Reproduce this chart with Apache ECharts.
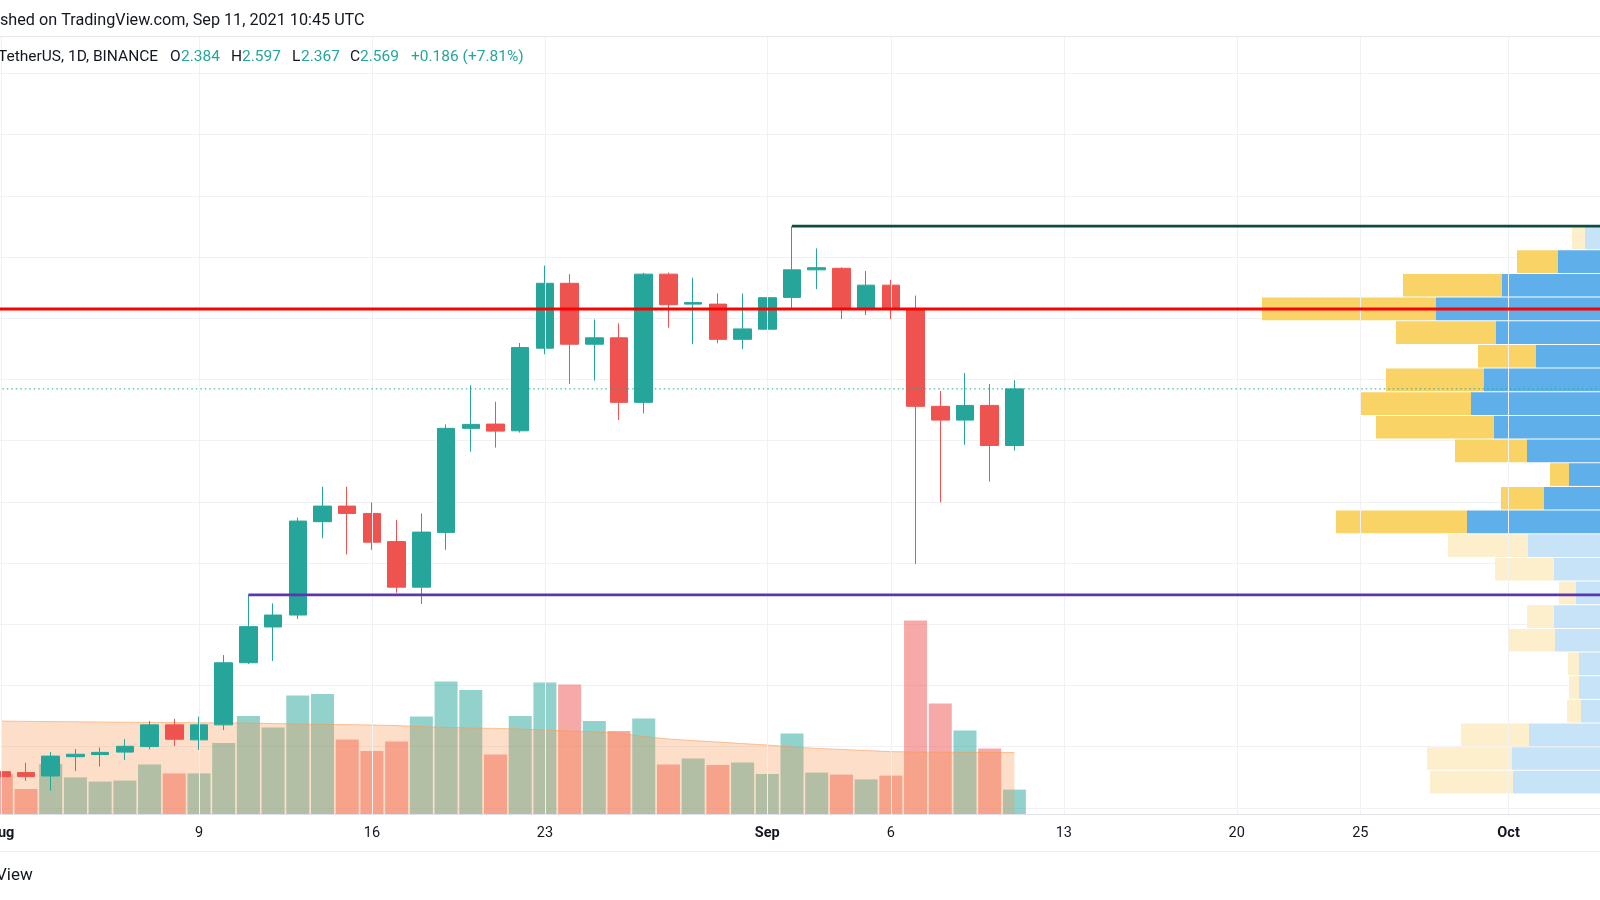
<!DOCTYPE html>
<html>
<head>
<meta charset="utf-8">
<script src="https://cdn.jsdelivr.net/npm/echarts/dist/echarts.min.js"></script>
<style>
  html, body { margin: 0; padding: 0; background: #ffffff; }
  #chart { width: 1600px; height: 900px; }
</style>
</head>
<body>
<div id="chart"></div>
<script>
// ---------------- DATA ----------------
const dates = [
  'Aug 1','Aug 2','Aug 3','Aug 4','Aug 5','Aug 6','Aug 7','Aug 8','Aug 9','Aug 10',
  'Aug 11','Aug 12','Aug 13','Aug 14','Aug 15','Aug 16','Aug 17','Aug 18','Aug 19','Aug 20',
  'Aug 21','Aug 22','Aug 23','Aug 24','Aug 25','Aug 26','Aug 27','Aug 28','Aug 29','Aug 30',
  'Aug 31','Sep 1','Sep 2','Sep 3','Sep 4','Sep 5','Sep 6','Sep 7','Sep 8','Sep 9',
  'Sep 10','Sep 11'
];
const futureDates = [
  'Sep 12','Sep 13','Sep 14','Sep 15','Sep 16','Sep 17','Sep 18','Sep 19','Sep 20','Sep 21',
  'Sep 22','Sep 23','Sep 24','Sep 25','Sep 26','Sep 27','Sep 28','Sep 29','Sep 30','Oct 1',
  'Oct 2','Oct 3','Oct 4','Oct 5'
];
const opens  = [1.318,1.315,1.304,1.367,1.374,1.382,1.400,1.471,1.422,1.471,
                1.674,1.791,1.830,2.135,2.186,2.162,2.070,1.921,2.100,2.440,
                2.454,2.432,2.702,2.914,2.715,2.736,2.525,2.944,2.846,2.846,
                2.731,2.764,2.868,2.958,2.963,2.829,2.908,2.831,2.512,2.467,
                2.515,2.384];
const closes = [1.302,1.302,1.369,1.375,1.381,1.401,1.471,1.424,1.471,1.674,
                1.792,1.830,2.137,2.186,2.162,2.068,1.921,2.101,2.440,2.453,
                2.431,2.704,2.914,2.715,2.736,2.525,2.944,2.844,2.851,2.731,
                2.765,2.867,2.958,2.965,2.829,2.908,2.831,2.512,2.467,2.515,
                2.384,2.569];
const lows   = [1.296,1.288,1.256,1.320,1.335,1.356,1.391,1.402,1.389,1.454,
                1.670,1.680,1.817,2.081,2.028,2.043,1.903,1.866,2.043,2.364,
                2.377,2.426,2.682,2.585,2.596,2.467,2.489,2.769,2.715,2.718,
                2.699,2.718,2.830,2.895,2.797,2.810,2.797,1.997,2.198,2.386,
                2.266,2.367];
const highs  = [1.386,1.347,1.382,1.392,1.397,1.424,1.484,1.491,1.498,1.699,
                1.896,1.868,2.148,2.249,2.249,2.198,2.141,2.162,2.453,2.581,
                2.527,2.719,2.972,2.944,2.796,2.783,2.948,2.949,2.932,2.881,
                2.881,2.901,3.101,3.028,2.966,2.954,2.925,2.874,2.562,2.621,
                2.585,2.597];
// daily volume (millions)
const volumes = [200,125,250,183,162,167,247,203,203,355,
                 490,433,592,600,372,315,363,487,663,620,
                 297,490,657,647,465,415,477,248,278,245,
                 258,200,402,207,197,173,192,968,553,417,
                 327,122];
// volume moving average (millions)
const volumeMA = [465,463,462,461,460,459,458,457,456,456,
                  455,452,450,448,447,445,442,437,433,430,
                  428,425,420,415,411,405,387,375,367,360,
                  352,345,335,328,323,317,312,310,309,308,
                  308,307];
// time-axis ticks
const tickDates  = ['Aug 1','Aug 9','Aug 16','Aug 23','Sep 1','Sep 6','Sep 13','Sep 20','Sep 25','Oct 1'];
const tickLabels = ['Aug','9','16','23','Sep','6','13','20','25','Oct'];
const monthLabels = ['Aug','Sep','Oct'];
// price grid
const priceMin = 1.2, priceMax = 3.6, priceStep = 0.2;
// volume profile (visible range), rows from top to bottom, millions
const vpHigh = 3.101, vpLow = 1.245;
const vpUp   = [75,210,490,820,520,320,580,645,530,365,155,280,665,360,230,120,230,225,105,105,95,355,440,435];
const vpDown = [65,205,495,870,500,290,490,555,590,360,95,215,655,400,295,85,135,235,55,50,70,340,425,415];
const vpValueArea = [1, 12]; // first and last row inside the value area
// key levels
const athDate = 'Sep 2';
const supportDate = 'Aug 11';
// header texts
const publishedText = 'shed on TradingView.com, Sep 11, 2021 10:45 UTC';
const symbolText = 'TetherUS, 1D, BINANCE';
const ohlcLabels = ['O', 'H', 'L', 'C'];
const ohlcValues = ['2.384', '2.597', '2.367', '2.569'];
const changeText = '+0.186 (+7.81%)';
const footerText = 'View';

// ---------------- BUILD ----------------
const allDays = dates.concat(futureDates);
const dayIdx = (d) => allDays.indexOf(d);
const tickIdx = tickDates.map(dayIdx);
// visible day window (first day centred at x=1.3, 24.71 px per day)
const X_MIN = -0.0526, X_MAX = 64.70;
const UP = '#26a69a', DOWN = '#ef5350';
const FONT = 'Roboto, "Liberation Sans", Arial, sans-serif';
const TEXT = '#131722';
const GRIDC = '#eff1f5';
const VOL_MAX = 3885;

const candleData = dates.map((d, i) => [i, opens[i], closes[i], lows[i], highs[i]]);
const volData = volumes.map((v, i) => [i, v, closes[i] >= opens[i] ? 1 : 0]);
const maData = volumeMA.map((v, i) => [i, v]);

const rowH = (vpHigh - vpLow) / vpUp.length;
const vpData = vpUp.map((u, i) => [
  vpHigh - i * rowH, vpHigh - (i + 1) * rowH, u, vpDown[i],
  (i >= vpValueArea[0] && i <= vpValueArea[1]) ? 1 : 0
]);
let pocIdx = 0;
vpUp.forEach((u, i) => { if (u + vpDown[i] > vpUp[pocIdx] + vpDown[pocIdx]) pocIdx = i; });
const pocPrice = vpHigh - (pocIdx + 0.5) * rowH;
const athPrice = highs[dates.indexOf(athDate)];
const supportPrice = highs[dates.indexOf(supportDate)];
const lastClose = closes[closes.length - 1];

function hLine(name, fromX, price, color, width, type) {
  return {
    type: 'line', name: name, xAxisIndex: 0, yAxisIndex: 0, z: 6, silent: true,
    symbol: 'none', animation: false, clip: true,
    data: [[fromX, price], [X_MAX + 1, price]],
    lineStyle: { color: color, width: width, type: type || 'solid' }
  };
}

const chart = echarts.init(document.getElementById('chart'), null, { renderer: 'canvas' });

const option = {
  animation: false,
  backgroundColor: '#ffffff',
  grid: [
    { left: 0, right: 0, top: 73.4, bottom: 92.2, containLabel: false, outerBoundsMode: 'none' },
    { left: 0, right: 0, top: 37, bottom: 86, containLabel: false, outerBoundsMode: 'none' },
    { left: 1000, right: 0, top: 73.4, bottom: 92.2, containLabel: false, outerBoundsMode: 'none' }
  ],
  xAxis: [
    { type: 'value', gridIndex: 0, min: X_MIN, max: X_MAX, show: false },
    {
      type: 'value', gridIndex: 1, min: X_MIN, max: X_MAX,
      axisLine: { show: false }, axisTick: { show: false }, splitLine: { show: false },
      axisLabel: {
        customValues: tickIdx,
        showMinLabel: true, showMaxLabel: true, hideOverlap: false,
        margin: 12, color: TEXT, fontSize: 14.5, fontFamily: FONT,
        formatter: (v) => {
          const k = tickIdx.indexOf(Math.round(v));
          if (k < 0) return '';
          const t = tickLabels[k];
          return monthLabels.indexOf(t) >= 0 ? '{m|' + t + '}' : t;
        },
        rich: { m: { fontWeight: 'bold', fontSize: 14.5, color: TEXT, fontFamily: FONT } }
      }
    },
    { type: 'value', gridIndex: 2, inverse: true, min: 0, max: 3000, show: false }
  ],
  yAxis: [
    {
      type: 'value', gridIndex: 0, min: priceMin, max: priceMax, interval: priceStep,
      axisLabel: { show: false }, axisLine: { show: false }, axisTick: { show: false },
      splitLine: { show: true, lineStyle: { color: GRIDC, width: 1 } }
    },
    { type: 'value', gridIndex: 1, min: 0, max: VOL_MAX, show: false },
    { type: 'value', gridIndex: 2, min: priceMin, max: priceMax, show: false }
  ],
  series: [
    {
      // vertical time grid lines at the labelled days
      type: 'line', name: 'TimeGrid', xAxisIndex: 1, yAxisIndex: 1, z: 0, silent: true,
      data: [], symbol: 'none',
      markLine: {
        silent: true, symbol: 'none', label: { show: false }, animation: false,
        lineStyle: { color: GRIDC, width: 1, type: 'solid' },
        data: tickIdx.map(x => ({ xAxis: x }))
      }
    },
    {
      type: 'custom', name: 'Volume', xAxisIndex: 1, yAxisIndex: 1, z: 1, silent: true,
      data: volData,
      encode: { x: 0, y: 1 },
      renderItem: (params, api) => {
        const top = api.coord([api.value(0), api.value(1)]);
        const base = api.coord([api.value(0), 0]);
        const w = 23;
        return {
          type: 'rect',
          shape: { x: top[0] - w / 2, y: top[1], width: w, height: base[1] - top[1] },
          style: { fill: api.value(2) === 1 ? 'rgba(38,166,154,0.5)' : 'rgba(239,83,80,0.5)' }
        };
      }
    },
    {
      type: 'line', name: 'Volume MA', xAxisIndex: 1, yAxisIndex: 1, z: 2, silent: true,
      symbol: 'none', data: maData,
      lineStyle: { color: 'rgba(250,151,81,0.55)', width: 1 },
      areaStyle: { color: 'rgba(250,151,81,0.45)', origin: 'start' }
    },
    {
      type: 'custom', name: 'VPVR', xAxisIndex: 2, yAxisIndex: 2, z: 2, silent: true,
      data: vpData,
      encode: { x: [2, 3], y: [0, 1] },
      renderItem: (params, api) => {
        const pTop = api.value(0), pBot = api.value(1);
        const u = api.value(2), d = api.value(3), inVA = api.value(4) === 1;
        const pR = api.coord([0, pTop]);
        const pU = api.coord([u, pBot]);
        const pA = api.coord([u + d, pBot]);
        const y0 = pR[1] + 0.5;
        const h = pU[1] - pR[1] - 1;
        return {
          type: 'group',
          children: [
            { type: 'rect', shape: { x: pU[0], y: y0, width: pR[0] - pU[0], height: h },
              style: { fill: inVA ? '#5eafea' : '#c6e3f7' } },
            { type: 'rect', shape: { x: pA[0], y: y0, width: pU[0] - pA[0], height: h },
              style: { fill: inVA ? '#f9d366' : '#fdefcb' } }
          ]
        };
      }
    },
    {
      type: 'candlestick', name: 'Price', xAxisIndex: 0, yAxisIndex: 0, z: 3, silent: true,
      barWidth: 18, data: candleData,
      encode: { x: 0, y: [1, 2, 3, 4] },
      itemStyle: { color: UP, color0: DOWN, borderColor: UP, borderColor0: DOWN, borderWidth: 1 }
    },
    hLine('POC', X_MIN - 1, pocPrice, '#ff0000', 3),
    hLine('Last', X_MIN - 1, lastClose, UP, 1, [1.5, 3]),
    hLine('ATH', dates.indexOf(athDate), athPrice, '#0e4d3e', 2.7),
    hLine('Support', dates.indexOf(supportDate), supportPrice, '#5e35b1', 2.7)
  ],
  graphic: {
    elements: [
      { type: 'line', z: 0, shape: { x1: 0, y1: 36.5, x2: 1600, y2: 36.5 }, style: { stroke: '#e6e8ee', lineWidth: 1 } },
      { type: 'line', z: 0, shape: { x1: 0, y1: 814.5, x2: 1600, y2: 814.5 }, style: { stroke: '#dfe2ea', lineWidth: 1 } },
      { type: 'line', z: 0, shape: { x1: 0, y1: 851.5, x2: 1600, y2: 851.5 }, style: { stroke: '#eceef2', lineWidth: 1 } },
      { type: 'text', z: 10, x: 0, y: 20.5, style: { text: publishedText, fill: TEXT, font: '16.2px ' + FONT, textVerticalAlign: 'middle' } },
      { type: 'text', z: 10, x: -2, y: 57, style: { text: symbolText, fill: TEXT, font: '15.5px ' + FONT, textVerticalAlign: 'middle' } },
      { type: 'text', z: 10, x: 170, y: 57, style: { text: ohlcLabels[0], fill: TEXT, font: '15.5px ' + FONT, textVerticalAlign: 'middle' } },
      { type: 'text', z: 10, x: 181, y: 57, style: { text: ohlcValues[0], fill: UP, font: '15.5px ' + FONT, textVerticalAlign: 'middle' } },
      { type: 'text', z: 10, x: 231, y: 57, style: { text: ohlcLabels[1], fill: TEXT, font: '15.5px ' + FONT, textVerticalAlign: 'middle' } },
      { type: 'text', z: 10, x: 242, y: 57, style: { text: ohlcValues[1], fill: UP, font: '15.5px ' + FONT, textVerticalAlign: 'middle' } },
      { type: 'text', z: 10, x: 292, y: 57, style: { text: ohlcLabels[2], fill: TEXT, font: '15.5px ' + FONT, textVerticalAlign: 'middle' } },
      { type: 'text', z: 10, x: 301, y: 57, style: { text: ohlcValues[2], fill: UP, font: '15.5px ' + FONT, textVerticalAlign: 'middle' } },
      { type: 'text', z: 10, x: 350, y: 57, style: { text: ohlcLabels[3], fill: TEXT, font: '15.5px ' + FONT, textVerticalAlign: 'middle' } },
      { type: 'text', z: 10, x: 360, y: 57, style: { text: ohlcValues[3], fill: UP, font: '15.5px ' + FONT, textVerticalAlign: 'middle' } },
      { type: 'text', z: 10, x: 411, y: 57, style: { text: changeText, fill: UP, font: '15.5px ' + FONT, textVerticalAlign: 'middle' } },
      { type: 'text', z: 10, x: -4, y: 876, style: { text: footerText, fill: TEXT, font: '17px ' + FONT, textVerticalAlign: 'middle' } }
    ]
  }
};
chart.setOption(option);
</script>
</body>
</html>
